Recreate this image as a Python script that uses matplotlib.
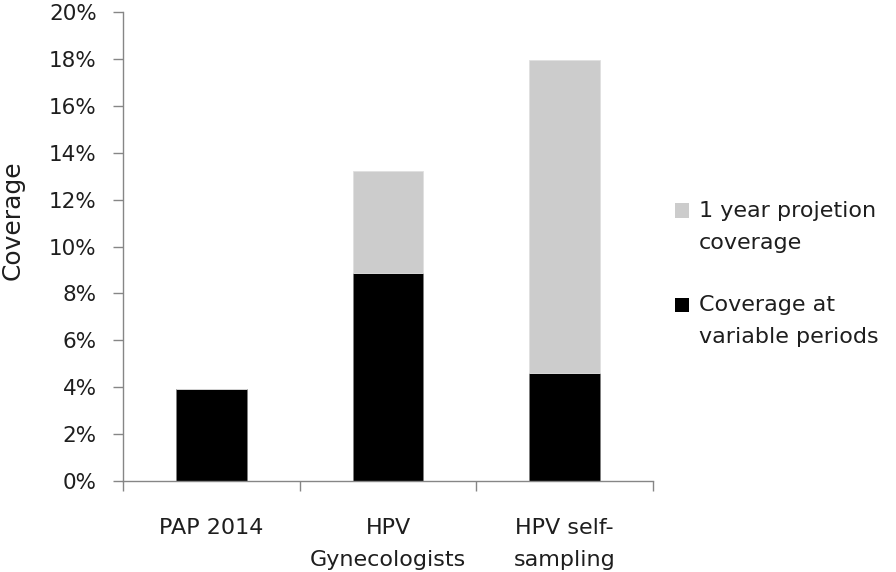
import matplotlib
matplotlib.use("Agg")
import matplotlib.pyplot as plt
from matplotlib.patches import Rectangle
from matplotlib.legend_handler import HandlerPatch
from matplotlib.ticker import FixedLocator, FuncFormatter

plt.rcParams['font.family'] = ['DejaVu Sans']

categories = ["PAP 2014", "HPV\nGynecologists", "HPV self-\nsampling"]
coverage_variable = [3.92, 8.86, 4.6]
projection_extra = [0.0, 4.37, 13.35]
series_labels = ["1 year projetion\ncoverage", "Coverage at\nvariable periods"]
ytick_values = list(range(0, 21, 2))

TEXT = "#1e1e1e"
FS = 15.5
LS = 1.75

fig = plt.figure(figsize=(8.96, 5.72), dpi=100)
ax = fig.add_axes([0.1373, 0.1591, 0.7288 - 0.1373, 0.979 - 0.1591])

x = list(range(len(categories)))
b1 = ax.bar(x, coverage_variable, width=0.40, color="black", edgecolor="#7f7f7f", linewidth=0.6, zorder=2)
b2 = ax.bar(x, projection_extra, bottom=coverage_variable, width=0.40, color="#cccccc",
            edgecolor="#e0e0e0", linewidth=0.6, zorder=2)

ax.set_xlim(-0.5, len(categories) - 0.5)
ax.set_ylim(0, 20)
ax.set_yticks(ytick_values)
ax.yaxis.set_major_formatter(FuncFormatter(lambda v, p: f"{v:.0f}%"))
ax.set_xticks(x)
ax.set_xticklabels(categories, linespacing=LS)
ax.xaxis.set_minor_locator(FixedLocator([i - 0.5 for i in range(len(categories) + 1)]))

for s in ["top", "right"]:
    ax.spines[s].set_visible(False)
for s in ["left", "bottom"]:
    ax.spines[s].set_color("#868686")
    ax.spines[s].set_linewidth(1.0)

ax.tick_params(axis="y", direction="out", length=7, width=1, color="#868686",
               labelsize=FS, labelcolor=TEXT, pad=12)
ax.tick_params(axis="x", which="major", length=0, labelsize=16, labelcolor=TEXT, pad=27)
ax.tick_params(axis="x", which="minor", direction="out", length=7, width=1, color="#868686")

ax.set_ylabel("Coverage", fontsize=18, color=TEXT)
ax.yaxis.set_label_coords(-0.185, 0.556)


class TopAlignedSquare(HandlerPatch):
    def create_artists(self, legend, orig_handle, xdescent, ydescent, width, height, fontsize, trans):
        size = fontsize * 0.65
        shift = 11.9
        p = Rectangle((-xdescent + (width - size), -ydescent + (height - size) / 2 + shift), size, size,
                      facecolor=orig_handle.get_facecolor(), edgecolor="none", transform=trans)
        return [p]


handles = [b2.patches[2], b1.patches[0]]
leg = fig.legend(handles, series_labels, loc="center left", bbox_to_anchor=(0.7506, 0.521),
                 frameon=False, fontsize=16, labelspacing=1.92, handlelength=0.75, handletextpad=0.45,
                 borderpad=0, borderaxespad=0,
                 handler_map={Rectangle: TopAlignedSquare()})
for t in leg.get_texts():
    t.set_linespacing(LS)
    t.set_color(TEXT)

fig.savefig("out.png", dpi=100)
